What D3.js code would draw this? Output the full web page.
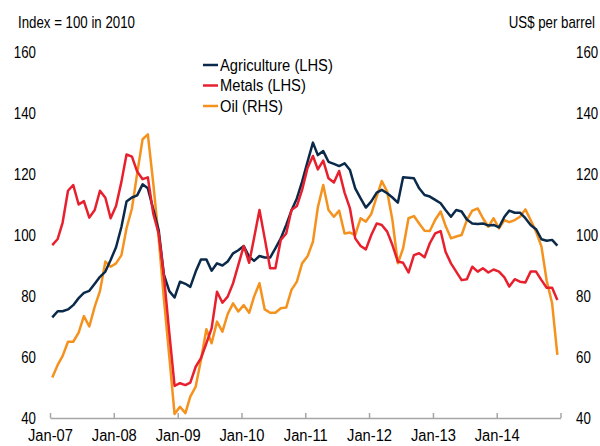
<!DOCTYPE html>
<html>
<head>
<meta charset="utf-8">
<script src="https://cdn.jsdelivr.net/npm/d3@7"></script>
<style>
  body { margin: 0; background: #fff; }
  svg text { font-family: "Liberation Sans", Arial, sans-serif; font-size: 16px; fill: #000; }
</style>
</head>
<body>
<script>
// monthly values, Jan-07 .. Dec-14
const agriculture = [
  73, 75, 75, 75.6, 77, 79.3, 81, 81.7, 84, 86.3, 88, 91.8,
  96, 102.7, 111, 112.3, 113, 116.6, 115.3, 108.5, 101.6, 87, 81.6, 79.5,
  84.7, 84, 83, 88, 92, 92, 88.3, 90.7, 90, 91.3, 94, 95,
  96.4, 92.9, 91.5, 93.1, 92.6, 92.6, 95.6, 98.9, 103.3, 108, 112, 117.5,
  124, 130.3, 126.2, 127.5, 124, 123.3, 122.6, 123.5, 121.3, 115.3, 112, 109,
  111, 113.9, 114.8, 113.7, 112.3, 110.6, 118.9, 118.8, 118.6, 115.3, 113.1, 112.6,
  111.5, 110.4, 108.2, 106, 108.2, 107.7, 105.1, 103.8, 103.6, 103.8, 103.1, 103.3,
  102.5, 106, 108, 107.3, 107.3, 105.5, 103.3, 101.9, 98.6, 98.1, 98.4, 96.5
];
const metals = [
  96.7, 98.7, 104, 114.5, 116.4, 110, 111.1, 105.7, 108.2, 114.5, 112.2, 105.5,
  109.5, 117.5, 126.4, 125.7, 120.8, 118.3, 118.9, 107, 100.5, 86.6, 67.8, 50.5,
  51.4, 50.8, 51.6, 56.8, 59.6, 64.5, 69.4, 81.4, 77.8, 79.8, 84.2, 90.2,
  96.4, 90.9, 99, 108.2, 98.9, 89.1, 89.1, 98.4, 100.5, 108.2, 109.5, 114.8,
  122, 125.9, 121.5, 124.4, 118.6, 117.2, 121, 113.9, 108.7, 98.9, 96.4, 95.3,
  100, 103.8, 103.3, 101.1, 96.7, 91.3, 90.9, 87.7, 93.4, 94, 92.7, 97.3,
  100.5, 101.3, 94.5, 90.7, 88, 85.2, 85.5, 89.6, 88, 89.1, 87.7, 88.7,
  88, 86.1, 83.1, 85.5, 84.7, 84.4, 88, 88, 85.2, 82.7, 82.7, 78.7
];
const oil = [
  53.3, 57.4, 60.3, 65, 65, 68, 73.4, 70, 76.5, 81.6, 91.3, 89.6,
  90.7, 93.4, 102.2, 108.7, 120.2, 131.4, 133, 117, 99, 79, 60, 41.3,
  43.7, 41.6, 47, 50.3, 59, 69.1, 64.5, 71.6, 68.3, 74.1, 77.6, 74.9,
  77, 74.5, 79.8, 84.2, 75.6, 74.5, 74.5, 76, 76.2, 82, 84.7, 90.7,
  93, 97.8, 109, 116.4, 108.2, 106, 108, 100.5, 100.8, 100, 105.5, 104.4,
  106.9, 112.6, 117.7, 114.2, 104.9, 90.7, 95.6, 105.5, 106.2, 103.8, 101.4, 101.3,
  105, 107.7, 103, 98.9, 99.5, 100, 104.9, 108, 108.7, 105.5, 102.7, 105.5,
  102.2, 104.9, 104.2, 104.9, 106, 108.4, 104.9, 101.1, 96.2, 85, 77.6, 60.7
];
const tickYears = [2007, 2008, 2009, 2010, 2011, 2012, 2013, 2014, 2015];
const xTickLabels = ["Jan-07", "Jan-08", "Jan-09", "Jan-10", "Jan-11", "Jan-12", "Jan-13", "Jan-14", ""];
const yTicks = [40, 60, 80, 100, 120, 140, 160];
const seriesNames = ["Agriculture (LHS)", "Metals (LHS)", "Oil (RHS)"];

const width = 600, height = 446;
const colors = ["#0b2a4a", "#e8202e", "#f5921e"];
const narrow = "scale(0.83,1)"; // the source uses a condensed face

const months = d3.timeMonth.range(new Date(2007, 0, 1), new Date(2015, 0, 1));

const svg = d3.select("body").append("svg")
  .attr("width", width)
  .attr("height", height);

const x = d3.scaleTime()
  .domain([new Date(2007, 0, 1), new Date(2015, 0, 1)])
  .range([50, 560.5]);

const yLeft = d3.scaleLinear().domain([40, 160]).range([418, 52]);
const yRight = d3.scaleLinear().domain([40, 160]).range([418, 52]);

// bottom axis, ticks pointing up
const xAxis = svg.append("g")
  .attr("transform", `translate(0,${yLeft(40)})`)
  .call(d3.axisBottom(x)
    .tickValues(tickYears.map(y => new Date(y, 0, 1)))
    .tickFormat((d, i) => xTickLabels[i])
    .tickSizeInner(-5)
    .tickSizeOuter(0)
    .tickPadding(12));
xAxis.attr("font-family", null).attr("font-size", null);
xAxis.select(".domain").attr("stroke", "#a6a6a6").attr("stroke-width", 1.5);
xAxis.selectAll(".tick line").attr("stroke", "#a6a6a6").attr("stroke-width", 1.5);
xAxis.selectAll(".tick text").attr("dy", "0.71em").attr("transform", "scale(0.92,1)");

const leftAxis = svg.append("g")
  .attr("transform", "translate(36,0)")
  .call(d3.axisLeft(yLeft).tickValues(yTicks).tickSize(0).tickPadding(0));
leftAxis.attr("font-family", null).attr("font-size", null);
leftAxis.select(".domain").remove();
leftAxis.selectAll("text").attr("transform", narrow);

const rightAxis = svg.append("g")
  .attr("transform", "translate(576,0)")
  .call(d3.axisRight(yRight).tickValues(yTicks).tickSize(0).tickPadding(0));
rightAxis.attr("font-family", null).attr("font-size", null);
rightAxis.select(".domain").remove();
rightAxis.selectAll("text").attr("transform", narrow);

svg.append("text")
  .attr("transform", `translate(18,28) ${narrow}`)
  .text("Index = 100 in 2010");
svg.append("text")
  .attr("transform", `translate(595,28) ${narrow}`)
  .attr("text-anchor", "end")
  .text("US$ per barrel");

const lineLeft = d3.line()
  .x((d, i) => x(d3.timeDay.offset(months[i], 13)))
  .y(d => yLeft(d));
const lineRight = d3.line()
  .x((d, i) => x(d3.timeDay.offset(months[i], 13)))
  .y(d => yRight(d));

const series = [
  { name: seriesNames[0], values: agriculture, line: lineLeft, color: colors[0] },
  { name: seriesNames[1], values: metals, line: lineLeft, color: colors[1] },
  { name: seriesNames[2], values: oil, line: lineRight, color: colors[2] }
];

// oil first so agriculture and metals sit on top
svg.append("g").selectAll("path")
  .data([series[2], series[0], series[1]])
  .enter().append("path")
    .attr("d", d => d.line(d.values))
    .attr("fill", "none")
    .attr("stroke", d => d.color)
    .attr("stroke-width", 2.5)
    .attr("stroke-linejoin", "round");

const legend = svg.append("g").attr("transform", "translate(203,65)");
const item = legend.selectAll("g")
  .data(series)
  .enter().append("g")
    .attr("transform", (d, i) => `translate(0,${i * 20.5})`);
item.append("line")
  .attr("x1", 0).attr("x2", 15)
  .attr("stroke", d => d.color)
  .attr("stroke-width", 2.5);
item.append("text")
  .attr("transform", "translate(17,0) scale(0.92,1)")
  .attr("dy", "0.35em")
  .text(d => d.name);
</script>
</body>
</html>
